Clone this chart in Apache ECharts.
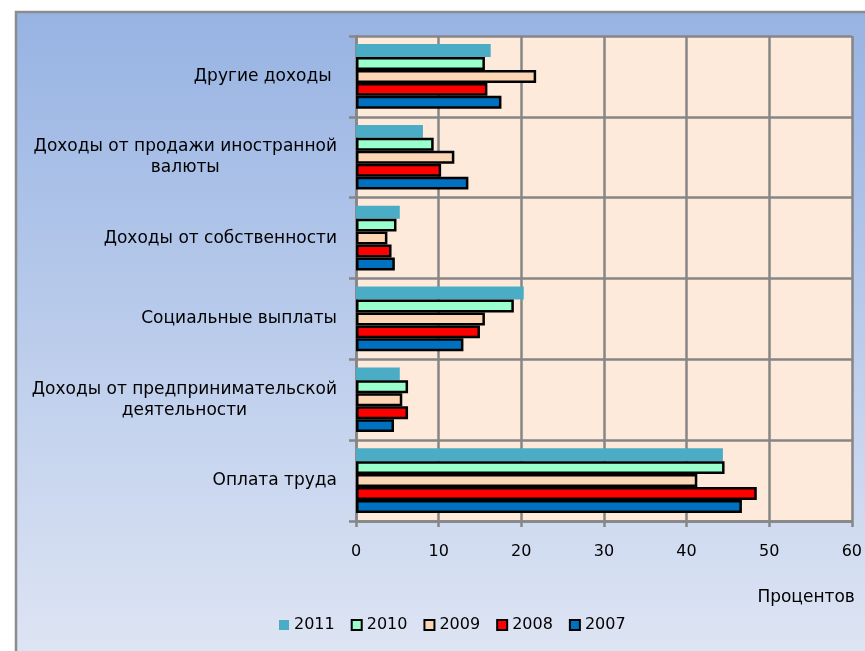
<!DOCTYPE html>
<html>
<head>
<meta charset="utf-8">
<script src="https://cdn.jsdelivr.net/npm/echarts@6/dist/echarts.min.js"></script>
<style>
html,body{margin:0;padding:0;background:#fff;}
#chart{width:865px;height:651px;}
</style>
</head>
<body>
<div id="chart"></div>
<script>
// Categories, top to bottom
const categories = [
  'Другие доходы ',
  'Доходы от продажи иностранной\nвалюты',
  'Доходы от собственности',
  'Социальные выплаты',
  'Доходы от предпринимательской\nдеятельности',
  'Оплата труда'
];
const years = ['2011', '2010', '2009', '2008', '2007'];
const v2011 = [16.3, 8.1, 5.3, 20.3, 5.3, 44.4];
const v2010 = [15.6, 9.4, 4.9, 19.1, 6.3, 44.6];
const v2009 = [21.8, 11.9, 3.8, 15.6, 5.6, 41.3];
const v2008 = [15.9, 10.3, 4.3, 15.0, 6.3, 48.5];
const v2007 = [17.6, 13.6, 4.7, 13.0, 4.6, 46.7];
const xTicks = [0, 10, 20, 30, 40, 50, 60];
const axisName = 'Процентов';

const FONT = 'DejaVu Sans';
const values = [v2011, v2010, v2009, v2008, v2007];
const colors = ['#4BACC6', '#99FFCC', '#FCD5B5', '#FF0000', '#0070C0'];

const chart = echarts.init(document.getElementById('chart'), null, {renderer: 'canvas'});
const option = {
  animation: false,
  backgroundColor: '#ffffff',
  textStyle: {fontFamily: FONT, color: '#000'},
  graphic: [{
    type: 'rect',
    z: -10,
    silent: true,
    shape: {x: 16, y: 12, width: 900, height: 700},
    style: {
      fill: new echarts.graphic.LinearGradient(0, 0, 0, 1, [
        {offset: 0, color: '#97B3E3'},
        {offset: 1, color: '#E4E9F5'}
      ]),
      stroke: '#8C8C8C',
      lineWidth: 2.5
    }
  }],
  grid: {
    left: 356, top: 36, right: 10, bottom: 130,
    show: true, backgroundColor: '#FDEADA', borderWidth: 0,
    containLabel: false
  },
  legend: {
    data: years,
    icon: 'rect',
    padding: 0,
    left: 279, top: 617,
    itemWidth: 10, itemHeight: 10, itemGap: 16,
    textStyle: {fontFamily: FONT, fontSize: 16, color: '#000'}
  },
  xAxis: {
    type: 'value',
    min: xTicks[0], max: xTicks[xTicks.length - 1], interval: 10,
    axisLine: {show: true, lineStyle: {color: '#868686', width: 2.5}},
    axisTick: {show: true, length: 6, lineStyle: {color: '#868686', width: 2.5}},
    axisLabel: {margin: 23, fontFamily: FONT, fontSize: 16, color: '#000'},
    splitLine: {show: true, lineStyle: {color: '#868686', width: 2.5}},
    name: axisName,
    nameLocation: 'end',
    nameGap: 3,
    nameTextStyle: {fontFamily: FONT, fontSize: 17, color: '#000', align: 'right', verticalAlign: 'top', padding: [68, 0, 0, 0]}
  },
  yAxis: {
    type: 'category',
    data: categories,
    inverse: true,
    axisLine: {show: true, lineStyle: {color: '#868686', width: 2.5}},
    axisTick: {show: true, length: 7, lineStyle: {color: '#868686', width: 2.5}},
    splitLine: {show: true, lineStyle: {color: '#868686', width: 2.5}},
    axisLabel: {
      margin: 19,
      align: 'right',
      formatter: function (val) {
        return val.split('\n').map(function (l) { return '{c|' + l + '}'; }).join('\n');
      },
      rich: {c: {align: 'center', fontFamily: FONT, fontSize: 17, color: '#000', lineHeight: 21}}
    }
  },
  series: years.map(function (y, i) {
    return {
      name: y,
      type: 'bar',
      data: values[i],
      barGap: '0%',
      barCategoryGap: '20%',
      itemStyle: i === 0
        ? {color: colors[i]}
        : {color: colors[i], borderColor: '#000', borderWidth: 2.5}
    };
  })
};
chart.setOption(option);
</script>
</body>
</html>
